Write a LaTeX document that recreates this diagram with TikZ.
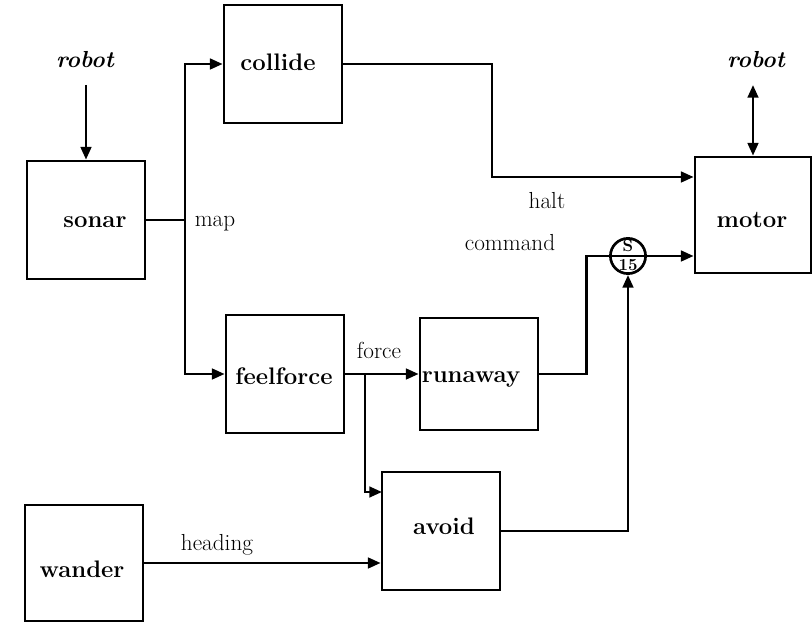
\documentclass[tikz,border=0pt]{standalone}
\usepackage{tikz}
\usetikzlibrary{arrows.meta, positioning, calc}

\begin{document}
\begin{tikzpicture}[
  x=0.025cm, y=-0.025cm,
  blockbox/.style={draw, line width=1.9pt, minimum width=2.95cm, minimum height=2.95cm, inner sep=0pt},
  boxtext/.style={font=\fontsize{17}{19}\selectfont\bfseries, inner sep=0pt},
  lbl/.style={font=\fontsize{16.5}{19}\selectfont},
  robotlbl/.style={font=\fontsize{16.5}{19}\selectfont\bfseries\itshape},
  suptext/.style={font=\fontsize{12}{12}\selectfont\bfseries, inner sep=0pt},
  wire/.style={line width=1.9pt, -{Triangle[length=9pt,width=7.5pt]}},
  plainwire/.style={line width=1.9pt}
]
\useasboundingbox (0,0) rectangle (812,623);

% Blocks
\node[blockbox] (collide) at (283,64) {};
\node[blockbox] (sonar) at (86,220) {};
\node[blockbox] (feelforce) at (285,374) {};
\node[blockbox, minimum height=2.8cm] (runaway) at (479,374) {};
\node[blockbox] (avoid) at (441,531) {};
\node[blockbox, minimum width=2.95cm, minimum height=2.9cm] (wander) at (84,563) {};
\node[blockbox, minimum width=2.9cm, minimum height=2.9cm] (motor) at (753,215) {};

% Block names
\node[boxtext] (collidetxt) at (278,62) {collide};
\node[boxtext] (sonartxt) at (95,222) {sonar};
\node[boxtext] (feelforcetxt) at (284,376) {feelforce};
\node[boxtext] (runawaytxt) at (471,379) {runaway};
\node[boxtext] (avoidtxt) at (444,526) {avoid};
\node[boxtext] (wandertxt) at (82,569) {wander};
\node[boxtext] (motortxt) at (752,220) {motor};

% Suppressor
\node[draw, circle, line width=1.9pt, minimum size=0.88cm, inner sep=0pt] (sup) at (628,256) {};
\node[suptext] (supS) at (628,246) {S};
\node[suptext] (supT) at (628,265) {15};

% Labels
\node[robotlbl] (robotin) at (85,60) {robot};
\node[robotlbl] (robotout) at (756,60) {robot};
\node[lbl] (maplbl) at (215,224) {map};
\node[lbl] (haltlbl) at (547,201) {halt};
\node[lbl] (cmdlbl) at (510,243) {command};
\node[lbl] (forcelbl) at (379,350) {force};
\node[lbl] (headlbl) at (217,545) {heading};

% Junctions
\coordinate (rin) at (86,85);
\coordinate (rout) at (753,85);
\coordinate (bus) at (185,220);
\coordinate (haltx) at (492,177);
\coordinate (forcej) at (365,374);
\coordinate (avtop) at (382,492);

% Connectors
\draw[wire] (rin) -- (sonar.north);
\draw[line width=1.9pt, {Triangle[length=9pt,width=7.5pt]}-{Triangle[length=9pt,width=7.5pt]}] (rout) -- (motor.north);
\draw[plainwire] (sonar.east) -- (bus);
\draw[wire] (bus) |- (collide.west);
\draw[wire] (bus) |- (feelforce.west);
\draw[wire] (collide.east) -| (haltx) -- (haltx -| motor.west);
\draw[wire] (feelforce.east) -- (runaway.west);
\draw[wire] (forcej) |- (avtop);
\draw[plainwire] (runaway.east) -- ++(47,0) |- (sup.west) -- (sup.east);
\draw[wire] (sup.east) -- (sup.east -| motor.west);
\draw[wire] (avoid.east) -| (sup.south);
\draw[wire] (wander.east) -- (wander.east -| avoid.west);

\end{tikzpicture}
\end{document}
